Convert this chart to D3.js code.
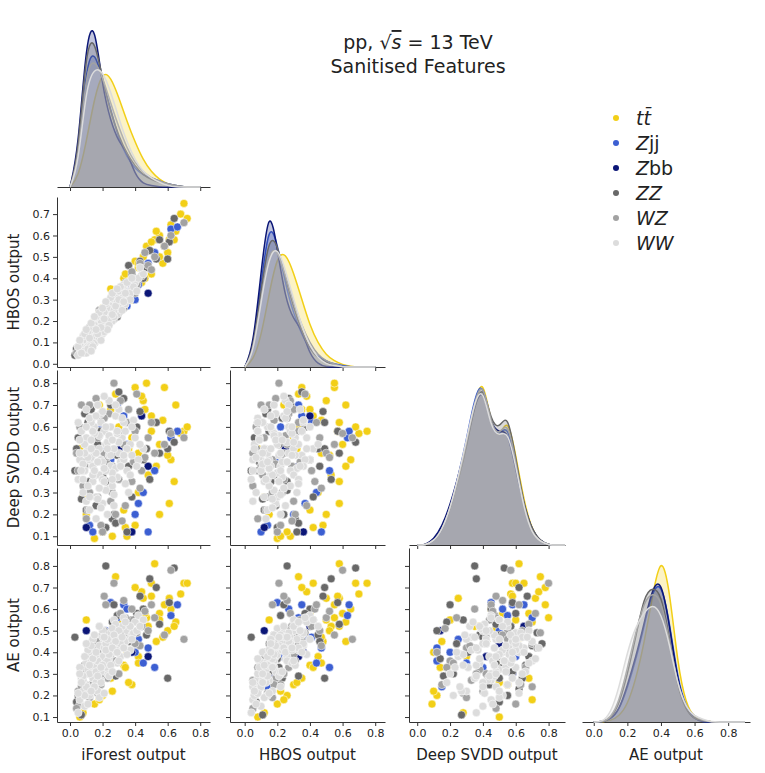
<!DOCTYPE html>
<html>
<head>
<meta charset="utf-8">
<script src="https://cdn.jsdelivr.net/npm/d3@7"></script>
<style>
  body { margin: 0; background: #fff; }
  text { font-family: 'DejaVu Sans', sans-serif; fill: #222; }
</style>
</head>
<body>
<div id="chart"></div>
<script>
const width = 765, height = 773;

// classes in draw order, events are [iForest, HBOS, DeepSVDD, AE]
const classes = [
  { key: 'tt', color: '#f2cf17', events: [
    [0.30,0.33,0.60,0.55],[0.45,0.50,0.72,0.65],[0.55,0.60,0.52,0.58],[0.62,0.65,0.45,0.60],[0.50,0.42,0.65,0.72],
    [0.40,0.48,0.15,0.45],[0.70,0.75,0.58,0.72],[0.35,0.28,0.10,0.40],[0.58,0.55,0.78,0.62],[0.25,0.35,0.68,0.28],
    [0.48,0.53,0.38,0.52],[0.65,0.62,0.70,0.54],[0.10,0.15,0.20,0.55],[0.38,0.30,0.55,0.25],[0.52,0.58,0.62,0.81],
    [0.20,0.26,0.12,0.20],[0.60,0.52,0.47,0.50],[0.44,0.38,0.74,0.68],[0.33,0.40,0.22,0.34],[0.06,0.08,0.50,0.10],
    [0.57,0.47,0.63,0.47],[0.42,0.45,0.30,0.38],[0.68,0.70,0.57,0.67],[0.28,0.33,0.75,0.75],[0.53,0.62,0.42,0.45],
    [0.15,0.20,0.09,0.16],[0.47,0.55,0.80,0.56],[0.36,0.32,0.50,0.26],[0.61,0.58,0.25,0.65],[0.72,0.68,0.60,0.72],
    [0.34,0.42,0.14,0.33],[0.46,0.40,0.68,0.58],[0.26,0.22,0.10,0.22],[0.55,0.50,0.20,0.55],[0.40,0.35,0.78,0.70],
    [0.18,0.24,0.70,0.18],[0.64,0.58,0.35,0.52],[0.50,0.57,0.58,0.66],[0.08,0.12,0.28,0.12],[0.42,0.47,0.48,0.35]] },
  { key: 'Zjj', color: '#3c5fd2', events: [
    [0.25,0.20,0.45,0.63],[0.45,0.44,0.30,0.35],[0.62,0.63,0.55,0.57],[0.33,0.35,0.65,0.62],[0.48,0.47,0.12,0.42],
    [0.18,0.22,0.60,0.38],[0.40,0.30,0.20,0.40],[0.52,0.52,0.40,0.33],[0.66,0.64,0.58,0.62],[0.12,0.14,0.15,0.24],
    [0.29,0.33,0.70,0.56],[0.42,0.37,0.25,0.46],[0.35,0.27,0.52,0.60],[0.22,0.25,0.50,0.50],[0.14,0.10,0.12,0.36],
    [0.38,0.41,0.62,0.47]] },
  { key: 'Zbb', color: '#0b1677', events: [
    [0.48,0.33,0.42,0.38],[0.10,0.12,0.14,0.50],[0.38,0.36,0.12,0.40],[0.30,0.25,0.50,0.44],[0.20,0.15,0.58,0.30],
    [0.44,0.40,0.65,0.52]] },
  { key: 'ZZ', color: '#686868', events: [
    [0.20,0.18,0.38,0.48],[0.32,0.29,0.57,0.52],[0.10,0.12,0.22,0.30],[0.45,0.40,0.45,0.60],[0.25,0.28,0.70,0.43],
    [0.15,0.10,0.48,0.35],[0.38,0.42,0.28,0.55],[0.05,0.06,0.55,0.20],[0.53,0.49,0.62,0.70],[0.22,0.20,0.14,0.37],
    [0.30,0.35,0.76,0.44],[0.12,0.16,0.35,0.42],[0.47,0.45,0.50,0.48],[0.19,0.23,0.64,0.28],[0.27,0.24,0.20,0.62],
    [0.08,0.09,0.44,0.25],[0.41,0.37,0.60,0.58],[0.35,0.32,0.12,0.50],[0.17,0.21,0.52,0.33],[0.03,0.04,0.40,0.47],
    [0.55,0.58,0.48,0.53],[0.24,0.26,0.31,0.40],[0.61,0.57,0.58,0.63],[0.13,0.14,0.68,0.38],[0.36,0.46,0.42,0.45],
    [0.22,0.26,0.35,0.80],[0.29,0.22,0.47,0.57],[0.07,0.11,0.27,0.11],[0.49,0.53,0.36,0.74],[0.18,0.15,0.58,0.31],
    [0.64,0.68,0.53,0.79],[0.43,0.48,0.67,0.66],[0.26,0.31,0.18,0.54],[0.11,0.08,0.62,0.23],[0.60,0.49,0.50,0.28],
    [0.16,0.19,0.24,0.44],[0.09,0.13,0.66,0.34],[0.33,0.27,0.73,0.49],[0.28,0.33,0.16,0.29],[0.04,0.07,0.50,0.17]] },
  { key: 'WZ', color: '#a2a2a2', events: [
    [0.14,0.12,0.50,0.38],[0.26,0.23,0.30,0.42],[0.35,0.33,0.62,0.47],[0.09,0.10,0.42,0.30],[0.44,0.41,0.40,0.52],
    [0.19,0.22,0.15,0.25],[0.31,0.28,0.72,0.58],[0.06,0.07,0.60,0.16],[0.48,0.46,0.55,0.50],[0.22,0.17,0.45,0.62],
    [0.28,0.31,0.20,0.36],[0.12,0.15,0.70,0.44],[0.38,0.43,0.35,0.60],[0.17,0.14,0.28,0.21],[0.52,0.50,0.48,0.56],
    [0.24,0.27,0.66,0.33],[0.33,0.26,0.52,0.64],[0.08,0.05,0.33,0.27],[0.41,0.37,0.75,0.49],[0.20,0.20,0.12,0.40],
    [0.29,0.35,0.58,0.46],[0.15,0.11,0.38,0.32],[0.46,0.52,0.46,0.59],[0.11,0.13,0.22,0.35],[0.36,0.30,0.68,0.53],
    [0.23,0.19,0.43,0.28],[0.58,0.55,0.52,0.48],[0.18,0.25,0.56,0.45],[0.32,0.29,0.17,0.51],[0.27,0.21,0.80,0.72],
    [0.13,0.18,0.63,0.25],[0.43,0.47,0.32,0.43],[0.21,0.24,0.48,0.66],[0.05,0.08,0.40,0.22],[0.50,0.44,0.62,0.62],
    [0.25,0.30,0.26,0.39],[0.62,0.60,0.57,0.78],[0.16,0.19,0.73,0.42],[0.39,0.34,0.44,0.55],[0.70,0.66,0.55,0.46],
    [0.10,0.08,0.18,0.33],[0.21,0.26,0.64,0.50],[0.30,0.24,0.36,0.30],[0.07,0.10,0.70,0.24],[0.34,0.38,0.24,0.56],
    [0.17,0.12,0.55,0.40],[0.26,0.29,0.42,0.47],[0.12,0.17,0.30,0.19],[0.40,0.33,0.58,0.44],[0.04,0.05,0.48,0.14]] },
  { key: 'WW', color: '#dcdcdc', events: [
    [0.12,0.10,0.45,0.30],[0.18,0.16,0.38,0.35],[0.22,0.20,0.52,0.40],[0.08,0.07,0.30,0.22],[0.15,0.14,0.60,0.33],
    [0.25,0.22,0.42,0.44],[0.30,0.27,0.48,0.46],[0.10,0.09,0.55,0.25],[0.20,0.19,0.25,0.38],[0.14,0.12,0.35,0.28],
    [0.28,0.24,0.65,0.42],[0.35,0.30,0.40,0.50],[0.06,0.05,0.45,0.18],[0.17,0.18,0.70,0.36],[0.23,0.22,0.20,0.30],
    [0.11,0.13,0.50,0.32],[0.32,0.31,0.55,0.52],[0.19,0.15,0.45,0.27],[0.26,0.28,0.33,0.47],[0.13,0.11,0.62,0.40],
    [0.09,0.10,0.40,0.15],[0.21,0.17,0.58,0.45],[0.38,0.35,0.47,0.48],[0.16,0.20,0.28,0.39],[0.24,0.25,0.72,0.37],
    [0.29,0.23,0.37,0.41],[0.07,0.08,0.58,0.28],[0.33,0.36,0.62,0.43],[0.12,0.14,0.22,0.20],[0.20,0.23,0.44,0.50],
    [0.27,0.30,0.50,0.55],[0.15,0.10,0.48,0.24],[0.40,0.38,0.55,0.54],[0.10,0.12,0.68,0.35],[0.22,0.18,0.31,0.33],
    [0.18,0.21,0.56,0.43],[0.31,0.26,0.44,0.38],[0.05,0.04,0.36,0.12],[0.14,0.16,0.42,0.46],[0.25,0.27,0.60,0.49],
    [0.36,0.32,0.30,0.46],[0.19,0.19,0.66,0.31],[0.09,0.06,0.52,0.20],[0.28,0.32,0.41,0.53],[0.16,0.13,0.18,0.26],
    [0.23,0.26,0.53,0.36],[0.34,0.28,0.58,0.45],[0.11,0.15,0.33,0.41],[0.21,0.24,0.74,0.42],[0.42,0.40,0.45,0.57],
    [0.13,0.09,0.46,0.36],[0.26,0.20,0.39,0.51],[0.17,0.17,0.27,0.22],[0.30,0.34,0.68,0.50],[0.08,0.11,0.43,0.27],
    [0.24,0.21,0.47,0.29],[0.37,0.33,0.52,0.41],[0.15,0.18,0.57,0.48],[0.20,0.14,0.36,0.34],[0.45,0.42,0.50,0.55],
    [0.12,0.08,0.64,0.30],[0.27,0.25,0.24,0.40],[0.33,0.37,0.45,0.56],[0.18,0.12,0.50,0.19],[0.22,0.28,0.40,0.44],
    [0.06,0.09,0.54,0.33],[0.29,0.29,0.57,0.35],[0.14,0.17,0.38,0.37],[0.39,0.36,0.63,0.49],[0.10,0.05,0.26,0.24],
    [0.16,0.22,0.48,0.31],[0.24,0.18,0.56,0.39],[0.08,0.13,0.36,0.29],[0.31,0.36,0.42,0.44],[0.19,0.11,0.62,0.26],
    [0.27,0.22,0.29,0.48],[0.13,0.19,0.54,0.43],[0.35,0.38,0.50,0.39],[0.21,0.15,0.41,0.21],[0.05,0.08,0.62,0.21],
    [0.28,0.27,0.70,0.45],[0.11,0.07,0.46,0.16],[0.37,0.30,0.38,0.52],[0.18,0.24,0.32,0.52],[0.25,0.31,0.47,0.34],
    [0.14,0.08,0.58,0.37],[0.32,0.25,0.64,0.47],[0.09,0.14,0.48,0.38],[0.22,0.29,0.60,0.41],[0.41,0.34,0.42,0.50],
    [0.17,0.14,0.44,0.29],[0.26,0.33,0.36,0.42],[0.07,0.05,0.40,0.26],[0.30,0.30,0.53,0.36],[0.20,0.26,0.67,0.47],
    [0.12,0.12,0.28,0.34],[0.34,0.33,0.34,0.54],[0.23,0.16,0.50,0.46],[0.15,0.22,0.40,0.24],[0.29,0.35,0.58,0.40],
    [0.10,0.16,0.60,0.44],[0.38,0.40,0.60,0.46],[0.19,0.17,0.23,0.33],[0.26,0.23,0.54,0.31],[0.13,0.06,0.50,0.22],
    [0.33,0.29,0.47,0.42],[0.21,0.21,0.35,0.47],[0.06,0.11,0.48,0.30],[0.43,0.45,0.52,0.52],[0.16,0.16,0.65,0.40]] }
];

// density curves, step 0.05 starting at 0
const densities = [
  { tt:  [0,0.3,1.5,3.0,3.9,3.7,3.0,2.2,1.5,0.9,0.5,0.25,0.1,0.03,0,0,0],
    Zjj: [0,0.8,4.2,4.6,3.6,2.6,1.6,1.0,0.6,0.4,0.3,0.2,0.1,0.05,0,0,0],
    Zbb: [0,1.2,5.0,5.6,3.3,2.2,1.5,1.2,0.4,0.1,0.05,0,0,0,0,0,0],
    ZZ:  [0,1.0,4.8,5.0,3.6,2.5,1.7,1.1,0.7,0.4,0.25,0.15,0.1,0.05,0,0,0],
    WZ:  [0,0.8,4.0,4.3,3.7,2.8,2.0,1.3,0.8,0.5,0.3,0.2,0.1,0.05,0,0,0],
    WW:  [0,0.7,3.4,4.0,3.9,3.2,2.3,1.5,0.9,0.5,0.3,0.15,0.05,0,0,0,0] },
  { tt:  [0,0.2,1.0,2.5,3.8,3.9,3.2,2.3,1.4,0.8,0.4,0.2,0.08,0.02,0,0,0],
    Zjj: [0,0.5,2.8,5.0,4.2,2.8,1.8,1.1,0.6,0.35,0.2,0.1,0.05,0,0,0,0],
    Zbb: [0,0.6,3.2,5.6,4.0,2.3,1.6,1.3,0.4,0.1,0,0,0,0,0,0,0],
    ZZ:  [0,0.5,2.6,4.5,4.2,3.0,2.0,1.2,0.6,0.3,0.15,0.05,0,0,0,0,0],
    WZ:  [0,0.4,2.3,4.0,4.0,3.1,2.2,1.4,0.8,0.4,0.2,0.1,0,0,0,0,0],
    WW:  [0,0.4,2.2,3.8,4.1,3.3,2.3,1.4,0.7,0.3,0.1,0.05,0,0,0,0,0] },
  { tt:  [0,0,0.1,0.4,1.0,1.8,2.8,4.0,4.7,3.3,2.9,3.6,2.5,1.2,0.4,0.1,0,0,0],
    Zjj: [0,0,0.1,0.4,1.0,1.9,2.9,4.1,4.6,3.2,3.0,3.4,2.2,1.0,0.4,0.1,0,0,0],
    Zbb: [0,0,0.15,0.5,1.1,1.9,2.8,3.9,4.4,3.3,3.1,3.2,2.1,1.1,0.4,0.1,0,0,0],
    ZZ:  [0,0,0.1,0.4,1.0,1.8,2.7,3.9,4.5,3.4,3.2,3.7,2.4,1.1,0.4,0.1,0,0,0],
    WZ:  [0,0,0.1,0.4,1.0,1.8,2.8,4.0,4.6,3.3,3.0,3.5,2.3,1.0,0.3,0.1,0,0,0],
    WW:  [0,0,0.1,0.4,1.0,1.9,2.9,4.0,4.4,3.2,3.0,3.2,2.2,1.0,0.3,0.1,0,0,0] },
  { tt:  [0,0,0.05,0.2,0.6,1.5,2.8,4.5,6.0,4.8,2.0,0.6,0.15,0.05,0,0,0,0,0],
    Zjj: [0,0,0.1,0.4,1.2,2.2,3.4,4.7,5.0,3.6,1.5,0.5,0.1,0,0,0,0,0,0],
    Zbb: [0,0,0.1,0.4,1.3,2.3,3.5,4.8,5.1,3.5,1.4,0.4,0.1,0,0,0,0,0,0],
    ZZ:  [0,0,0.1,0.6,1.7,3.0,4.5,4.8,4.6,3.0,1.2,0.4,0.1,0.05,0,0,0,0,0],
    WZ:  [0,0,0.15,0.7,1.9,3.2,4.3,4.6,4.4,2.9,1.3,0.5,0.2,0.05,0,0,0,0,0],
    WW:  [0,0,0.3,1.2,2.5,3.4,3.9,4.2,3.9,2.8,1.3,0.5,0.2,0.1,0,0,0,0,0] }
];

const labels = ['iForest output', 'HBOS output', 'Deep SVDD output', 'AE output'];
const xScales = [
  d3.scaleLinear().domain([-0.08, 0.86]).range([57, 210]),
  d3.scaleLinear().domain([-0.09, 0.86]).range([230, 385]),
  d3.scaleLinear().domain([-0.05, 0.9]).range([409, 565]),
  d3.scaleLinear().domain([-0.07, 0.93]).range([582, 750])
];
const rows = [[15, 187], [197, 367], [370, 545], [548, 722]];
const yScales = [
  null,
  d3.scaleLinear().domain([-0.015, 0.78]).range([367, 197]),
  d3.scaleLinear().domain([0.06, 0.86]).range([545, 370]),
  d3.scaleLinear().domain([0.077, 0.883]).range([722, 548])
];
const yTicks = [null, d3.range(0, 0.71, 0.1), d3.range(0.1, 0.81, 0.1), d3.range(0.1, 0.81, 0.1)];

const svg = d3.select('#chart').append('svg').attr('width', width).attr('height', height);

function styleAxis(g) {
  g.selectAll('path, line').attr('stroke', '#333');
  g.selectAll('text').attr('font-size', 11).attr('fill', '#333').style('font-family', 'DejaVu Sans');
}

for (let r = 0; r < 4; r++) {
  for (let c = 0; c <= r; c++) {
    const x = xScales[c];
    const bottom = rows[r][1];
    const xa = d3.axisBottom(x).tickValues([0, 0.2, 0.4, 0.6, 0.8]).tickSize(4).tickSizeOuter(0)
      .tickFormat(r === 3 ? d3.format('.1f') : '');
    svg.append('g').attr('transform', `translate(0,${bottom})`).call(xa).call(styleAxis);

    if (r === c) {
      // diagonal density
      const dens = densities[c];
      const maxD = d3.max(Object.values(dens), (a) => d3.max(a));
      const y = d3.scaleLinear().domain([0, maxD * 1.03]).range([rows[r][1], rows[r][0]]);
      classes.forEach((cls) => {
        const pts = dens[cls.key].map((v, i) => [i * 0.05, v]);
        const area = d3.area().x((d) => x(d[0])).y0(y(0)).y1((d) => y(d[1])).curve(d3.curveBasis);
        const line = d3.line().x((d) => x(d[0])).y((d) => y(d[1])).curve(d3.curveBasis);
        svg.append('path').datum(pts).attr('d', area).attr('fill', cls.color).attr('fill-opacity', 0.25);
        svg.append('path').datum(pts).attr('d', line).attr('fill', 'none')
          .attr('stroke', cls.color).attr('stroke-width', 1.5);
      });
    } else {
      const y = yScales[r];
      const ya = d3.axisLeft(y).tickValues(yTicks[r]).tickSize(4).tickSizeOuter(0)
        .tickFormat(c === 0 ? d3.format('.1f') : '');
      svg.append('g').attr('transform', `translate(${x.range()[0]},0)`).call(ya).call(styleAxis);
      classes.forEach((cls) => {
        svg.append('g').selectAll('circle').data(cls.events).enter().append('circle')
          .attr('cx', (d) => x(d[c]))
          .attr('cy', (d) => y(d[r]))
          .attr('r', 4)
          .attr('fill', cls.color)
          .attr('stroke', '#fff')
          .attr('stroke-width', 0.5);
      });
    }
  }
}

// axis labels
labels.forEach((l, i) => {
  const x = xScales[i];
  svg.append('text').attr('x', (x.range()[0] + x.range()[1]) / 2).attr('y', 760)
    .attr('text-anchor', 'middle').attr('font-size', 15).text(l);
  if (i > 0) {
    const cy = (rows[i][0] + rows[i][1]) / 2;
    svg.append('text').attr('transform', `translate(19,${cy}) rotate(-90)`)
      .attr('text-anchor', 'middle').attr('font-size', 15).text(l);
  }
});

// title
const t1 = svg.append('text').attr('x', 418).attr('y', 49).attr('text-anchor', 'middle').attr('font-size', 19);
t1.append('tspan').text('pp, √');
t1.append('tspan').attr('font-style', 'italic').style('text-decoration', 'overline').text('s');
t1.append('tspan').text(' = 13 TeV');
svg.append('text').attr('x', 418).attr('y', 73).attr('text-anchor', 'middle').attr('font-size', 19)
  .text('Sanitised Features');

// legend
const legendLabels = {
  tt: [['tt\u0304', true]], Zjj: [['Z', true], ['jj', false]], Zbb: [['Z', true], ['bb', false]],
  ZZ: [['ZZ', true]], WZ: [['WZ', true]], WW: [['WW', true]]
};
const legend = svg.append('g').attr('transform', 'translate(616,118)');
const item = legend.selectAll('g').data(classes).enter().append('g')
  .attr('transform', (d, i) => `translate(0,${i * 25})`);
item.append('circle').attr('r', 3).attr('fill', (d) => d.color);
item.append('text').attr('x', 20).attr('y', 7).attr('font-size', 19)
  .each(function (d) {
    const t = d3.select(this);
    legendLabels[d.key].forEach(([s, it]) => t.append('tspan').attr('font-style', it ? 'italic' : 'normal').text(s));
  });
</script>
</body>
</html>
